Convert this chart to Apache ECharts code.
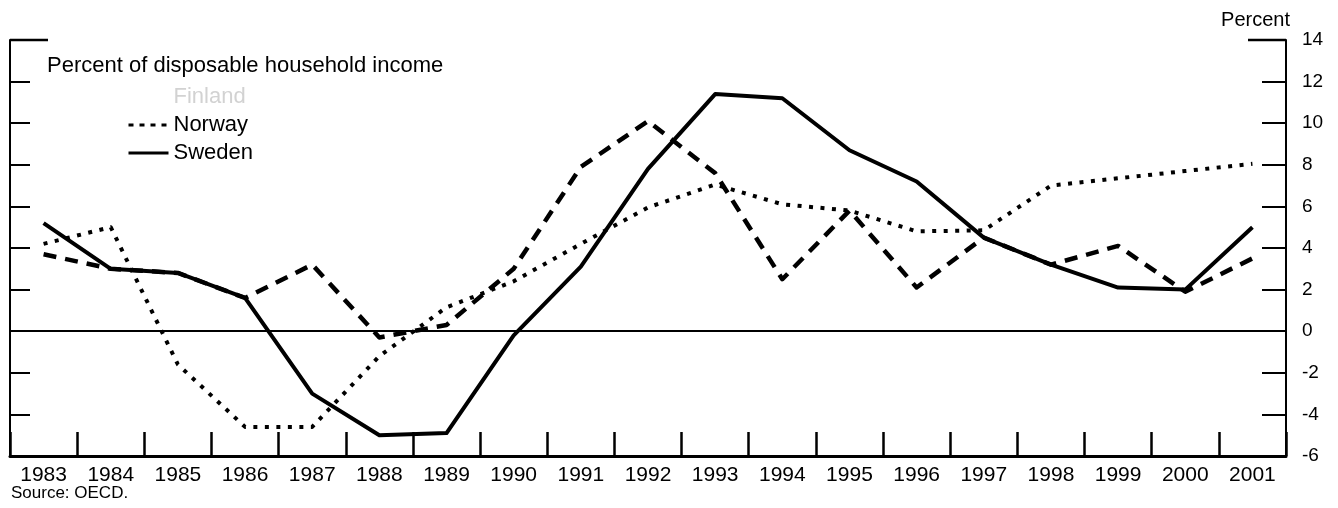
<!DOCTYPE html>
<html>
<head>
<meta charset="utf-8">
<script src="https://cdn.jsdelivr.net/npm/echarts@6/dist/echarts.min.js"></script>
<style>
  html, body { margin: 0; padding: 0; background: #fff; }
  #chart { width: 1338px; height: 508px; }
</style>
</head>
<body>
<div id="chart"></div>
<script>
// Household saving rates, percent of disposable household income
const years = ['1983','1984','1985','1986','1987','1988','1989','1990','1991','1992',
               '1993','1994','1995','1996','1997','1998','1999','2000','2001'];
const finland = [3.7, 3.0, 2.8, 1.6, 3.2, -0.3, 0.3, 3.0, 7.9, 10.1,
                 7.6, 2.5, 5.8, 2.1, 4.5, 3.2, 4.1, 1.9, 3.5];
const norway  = [4.2, 5.0, -1.6, -4.6, -4.6, -1.2, 1.15, 2.4, 4.2, 5.95,
                 7.05, 6.1, 5.8, 4.8, 4.85, 7.0, 7.35, 7.7, 8.05];
const sweden  = [5.2, 3.0, 2.8, 1.6, -3.0, -5.0, -4.9, -0.2, 3.1, 7.8,
                 11.4, 11.2, 8.7, 7.2, 4.5, 3.2, 2.1, 2.0, 5.0];
const yTicks = { min: -6, max: 14, step: 2 };

const FONT = '"Liberation Sans", Arial, Helvetica, sans-serif';
const chart = echarts.init(document.getElementById('chart'), null, { renderer: 'canvas' });

const tickStyle = { color: '#000', width: 2 };
const hiddenSymbol = { opacity: 0 };

const texts = [
  { type: 'text', left: 47, top: 55,
    style: { text: 'Percent of disposable household income', font: '22px ' + FONT, fill: '#000' } },
  { type: 'text', right: 48, top: 10,
    style: { text: 'Percent', font: '20px ' + FONT, fill: '#000' } },
  { type: 'text', left: 11, top: 485,
    style: { text: 'Source: OECD.', font: '17px ' + FONT, fill: '#000' } }
];

chart.setOption({
  animation: false,
  backgroundColor: '#fff',
  textStyle: { fontFamily: FONT, color: '#000' },
  grid: { left: 10, right: 52, top: 40, bottom: 52, containLabel: false },
  xAxis: {
    type: 'category',
    data: years,
    boundaryGap: true,
    axisLine: { onZero: false, lineStyle: { color: '#000', width: 3 } },
    axisTick: { show: true, inside: true, length: 24, lineStyle: { color: '#000', width: 2.5 } },
    axisLabel: { color: '#000', fontSize: 21, fontFamily: FONT, margin: 9, interval: 0 },
    splitLine: { show: false }
  },
  yAxis: [
    {
      type: 'value', position: 'right',
      min: yTicks.min, max: yTicks.max, interval: yTicks.step,
      axisLine: { show: true, lineStyle: { color: '#000', width: 2 } },
      axisTick: { show: true, inside: true, length: 24, lineStyle: tickStyle },
      axisLabel: { color: '#000', fontSize: 19, fontFamily: FONT, margin: 16 },
      splitLine: { show: false }
    },
    {
      type: 'value', position: 'left',
      min: yTicks.min, max: yTicks.max, interval: yTicks.step,
      axisLine: { show: true, lineStyle: { color: '#000', width: 2 } },
      axisTick: { show: true, inside: true, length: 20, lineStyle: tickStyle },
      axisLabel: { show: false },
      splitLine: { show: false }
    }
  ],
  legend: {
    orient: 'vertical',
    left: 122, top: 81,
    itemWidth: 40, itemHeight: 14, itemGap: 6,
    selectedMode: false,
    textStyle: { fontSize: 22, color: '#000', fontFamily: FONT },
    data: [
      { name: 'Finland', textStyle: { color: '#d2d2d2' },
        lineStyle: { opacity: 0 }, itemStyle: hiddenSymbol },
      { name: 'Norway', itemStyle: hiddenSymbol,
        lineStyle: { width: 3, type: [5, 6], color: '#000' } },
      { name: 'Sweden', itemStyle: hiddenSymbol,
        lineStyle: { width: 3, type: 'solid', color: '#000' } }
    ]
  },
  graphic: texts,
  series: [
    {
      name: 'Finland', type: 'line', data: finland,
      symbol: 'none', z: 3,
      lineStyle: { color: '#000', width: 4.5, type: [13, 9], cap: 'butt', join: 'round' },
      itemStyle: { color: '#000' }
    },
    {
      name: 'Norway', type: 'line', data: norway,
      symbol: 'none', z: 4,
      lineStyle: { color: '#000', width: 4, type: [4, 7.5], cap: 'butt', join: 'round' },
      itemStyle: { color: '#000' }
    },
    {
      name: 'Sweden', type: 'line', data: sweden,
      symbol: 'none', z: 5,
      lineStyle: { color: '#000', width: 4, type: 'solid', join: 'round' },
      itemStyle: { color: '#000' },
      markLine: {
        silent: true, symbol: 'none', animation: false,
        label: { show: false },
        lineStyle: { color: '#000', width: 2, type: 'solid' },
        data: [{ yAxis: 0 }]
      }
    }
  ]
});

// Longer frame ticks at the top of both vertical axes
const topY = chart.convertToPixel({ yAxisIndex: 0 }, yTicks.max);
const gridRect = chart.getModel().getComponent('grid').coordinateSystem.getRect();
chart.setOption({
  graphic: texts.concat([
    { type: 'line', shape: { x1: gridRect.x, y1: topY, x2: gridRect.x + 38, y2: topY },
      style: { stroke: '#000', lineWidth: 2.5 } },
    { type: 'line', shape: { x1: gridRect.x + gridRect.width - 38, y1: topY, x2: gridRect.x + gridRect.width, y2: topY },
      style: { stroke: '#000', lineWidth: 2.5 } }
  ])
});
</script>
</body>
</html>
